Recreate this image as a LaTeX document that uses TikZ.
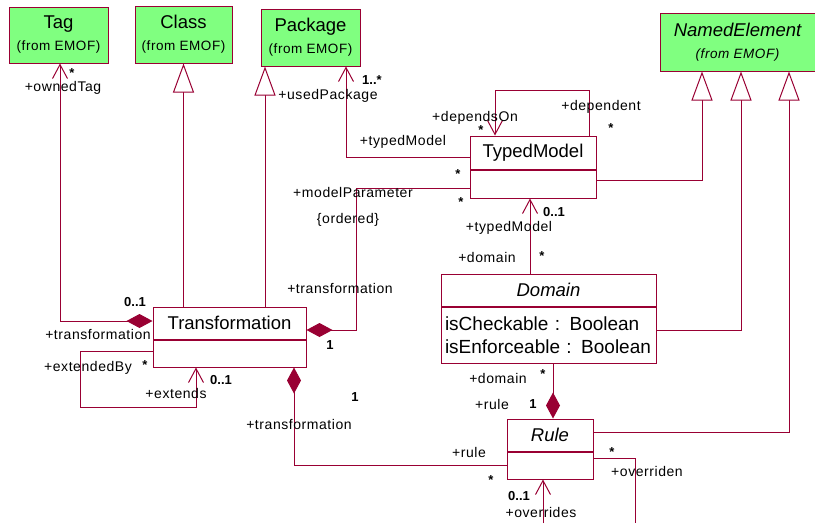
\documentclass[tikz,border=0pt]{standalone}
\usepackage{fontspec}
\setmainfont{Liberation Sans}
\newfontfamily\lblfont[LetterSpace=4]{Liberation Sans}
\usetikzlibrary{arrows.meta}
\definecolor{umlred}{RGB}{153,0,51}
\definecolor{emof}{RGB}{128,255,128}
\newcommand{\nmfont}{\fontsize{18.5}{20}\selectfont}
\newcommand{\frfont}{\fontsize{13.5}{15}\lblfont}

\begin{document}
\begin{tikzpicture}[x=1pt, y=-1pt,
  cls/.style={draw=umlred, fill=white, line width=1pt, inner sep=0pt, font=\nmfont},
  ext/.style={cls, fill=emof, align=center},
  lbl/.style={font=\fontsize{14}{16}\lblfont, inner sep=0pt},
  mult/.style={font=\fontsize{13}{15}\selectfont\bfseries, inner sep=0pt},
  conn/.style={draw=umlred, line width=1pt},
  gen/.style={conn, -{Triangle[open, length=29pt, width=21pt, fill=white]}},
  nav/.style={conn, -{Straight Barb[length=14pt, width=15pt]}},
  comp/.style={conn, {Diamond[length=26pt, width=14pt]}-},
  compnav/.style={conn, {Diamond[length=26pt, width=14pt]}-{Straight Barb[length=14pt, width=15pt]}}]
  \useasboundingbox (0,0) rectangle (815,523);

  \node[ext, minimum width=99, minimum height=56] (tag) at (58.5,35) {Tag\\[2pt]\frfont (from EMOF)};
  \node[ext, minimum width=97, minimum height=57] (cls) at (183.5,34.5) {Class\\[2pt]\frfont (from EMOF)};
  \node[ext, minimum width=99, minimum height=57] (pkg) at (310.5,37.5) {Package\\[2pt]\frfont (from EMOF)};
  \node[ext, minimum width=155, minimum height=58] (ne) at (737.5,42) {\itshape NamedElement\\[2pt]\frfont\itshape (from EMOF)};

  \node[cls, minimum width=126, minimum height=33] (tm) at (533,152.5) {TypedModel};
  \node[cls, minimum width=126, minimum height=28, anchor=north] (tmb) at (tm.south) {};
  \node[cls, minimum width=153, minimum height=32] (tr) at (229.5,323) {Transformation};
  \node[cls, minimum width=153, minimum height=27, anchor=north] (trb) at (tr.south) {};
  \node[cls, minimum width=215, minimum height=32] (dm) at (548.5,290) {\itshape Domain};
  \node[cls, minimum width=215, minimum height=56, anchor=north, align=left, text width=207,
    font=\fontsize{19}{23}\selectfont] (dmb) at (dm.south) {isCheckable : Boolean\\isEnforceable : Boolean};
  \node[cls, minimum width=86, minimum height=32] (ru) at (550,435) {\itshape Rule};
  \node[cls, minimum width=86, minimum height=27, anchor=north] (rub) at (ru.south) {};

  \coordinate (ovd) at (635,523);
  \coordinate (ovs) at (543,523);

  \draw[compnav] (tr.west |- 0,321) -| (tag.south -| 60,0);
  \draw[gen] (tr.north -| cls.south) -- (cls.south);
  \draw[gen] (tr.north -| 265,0) -- (pkg.south -| 265,0);
  \draw[nav] (tm.west |- 0,157) -| (pkg.south -| 346,0);
  \draw[comp] (tr.east |- 0,330) -| (356,188) -- (tmb.west |- 0,188);
  \draw[nav] (tm.north -| 589,0) -- ++(0,-45) -| (tm.north -| 495,0);
  \draw[gen] (tmb.east |- 0,180) -| (ne.south -| 702,0);
  \draw[gen] (dmb.east |- 0,330) -| (ne.south -| 741,0);
  \draw[gen] (ru.east |- 0,432) -| (ne.south -| 789,0);
  \draw[nav] (dm.north -| 530,0) -- (tmb.south -| 530,0);
  \draw[comp] (ru.north -| 553,0) -- (dmb.south -| 553,0);
  \draw[comp] (trb.south -| 294,0) |- (rub.west |- 0,465);
  \draw[nav] (trb.west |- 0,351) -| (80,407) -| (trb.south -| 196,0);
  \draw[conn] (rub.east |- 0,458) -| (ovd);
  \draw[nav] (ovs) -- (rub.south -| 543,0);

  \node[mult] (tagm) at (72,73) {*};
  \node[lbl] (tagr) at (63,88) {+ownedTag};
  \node[lbl] (pkgr) at (328,96) {+usedPackage};
  \node[mult] (pkgm) at (372,80) {1..*};
  \node[lbl] (tmpr) at (403,142) {+typedModel};
  \node[mult] (tmpm) at (458,174) {*};
  \node[lbl] (depr) at (475,118) {+dependsOn};
  \node[mult] (depm) at (481,130) {*};
  \node[lbl] (dntr) at (601,107) {+dependent};
  \node[mult] (dntm) at (611,128) {*};
  \node[mult] (parm) at (461,202) {*};
  \node[lbl] (parr) at (353,192) {+modelParameter};
  \node[lbl] (ordr) at (348,220) {\{ordered\}};
  \node[lbl] (trpr) at (340,288) {+transformation};
  \node[mult] (trpm) at (330,345) {1};
  \node[mult] (tmdm) at (554,212) {0..1};
  \node[lbl] (tmdr) at (509,228) {+typedModel};
  \node[lbl] (dmtr) at (487,257) {+domain};
  \node[mult] (dmtm) at (542,256) {*};
  \node[mult] (trtm) at (135,302) {0..1};
  \node[lbl] (trtr) at (98,334) {+transformation};
  \node[lbl] (exbr) at (88,368) {+extendedBy};
  \node[mult] (exbm) at (145,365) {*};
  \node[lbl] (exsr) at (176,393) {+extends};
  \node[mult] (exsm) at (221,380) {0..1};
  \node[mult] (trrm) at (355,397) {1};
  \node[lbl] (trrr) at (299,424) {+transformation};
  \node[lbl] (dmrr) at (498,378) {+domain};
  \node[mult] (dmrm) at (543,374) {*};
  \node[lbl] (rudr) at (492,404) {+rule};
  \node[mult] (rudm) at (533,404) {1};
  \node[lbl] (rutr) at (469,452) {+rule};
  \node[mult] (rutm) at (491,480) {*};
  \node[mult] (ovdm) at (612,452) {*};
  \node[lbl] (ovdr) at (647,471) {+overriden};
  \node[mult] (ovsm) at (519,496) {0..1};
  \node[lbl] (ovsr) at (541,512) {+overrides};
\end{tikzpicture}
\end{document}
